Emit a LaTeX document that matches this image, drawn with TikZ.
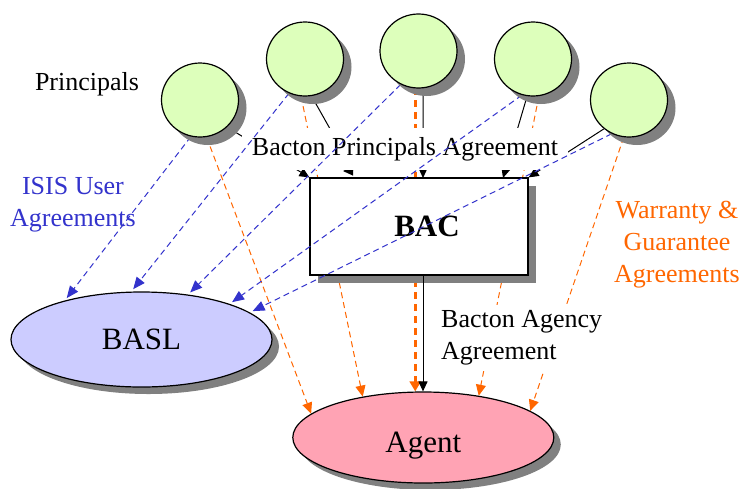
\documentclass[tikz,border=0pt]{standalone}
\usepackage{fontspec}
\setmainfont{Liberation Serif}
\usetikzlibrary{shapes.geometric,shadows,arrows.meta}
\definecolor{pgreen}{HTML}{DDFFBB}
\definecolor{lav}{HTML}{CCCCFF}
\definecolor{pinkfill}{HTML}{FFA3B4}
\definecolor{ublue}{HTML}{3333CC}
\definecolor{worange}{HTML}{FF6600}
\definecolor{shadowgray}{HTML}{808080}
\pgfdeclarelayer{lower}
\pgfdeclarelayer{bg}
\pgfdeclarelayer{fg}
\pgfsetlayers{lower,bg,main,fg}
\tikzset{
  shad/.style={drop shadow={shadow xshift=#1, shadow yshift=-#1, fill=shadowgray, opacity=1}},
  principal/.style={ellipse, draw, line width=1.2pt, fill=pgreen, minimum width=77pt, minimum height=74pt, inner sep=0pt, shad=8pt},
  bigell/.style={ellipse, draw, line width=1.2pt, minimum width=261pt, minimum height=93pt, inner sep=0pt, font=\fontsize{31}{36}\selectfont, shad=7pt},
  bacbox/.style={rectangle, draw, line width=1.2pt, fill=white, minimum width=218pt, minimum height=97pt, inner sep=0pt, font=\fontsize{31}{36}\selectfont\bfseries, shad=8pt},
  lbl/.style={inner sep=0pt, font=\fontsize{26}{32}\selectfont},
  bline/.style={line width=1pt, -{Triangle[length=10pt,width=9pt]}},
  wline/.style={line width=1pt, worange, dash pattern=on 6pt off 4pt, -{Triangle[length=11pt,width=10pt]}},
  uline/.style={line width=1pt, ublue, dash pattern=on 6pt off 4pt, shorten >=3pt, -{Triangle[length=12pt,width=10pt]}},
}
\begin{document}
\begin{tikzpicture}[x=1pt,y=-1pt]
\useasboundingbox (0,0) rectangle (743,488);
% principals (top layer)
\begin{pgfonlayer}{fg}
\node[principal] (p1) at (200,100) {};
\node[principal] (p2) at (305,59) {};
\node[principal] (p3) at (418.5,51) {};
\node[principal] (p4) at (533,59) {};
\node[principal] (p5) at (629,100) {};
\end{pgfonlayer}
\begin{pgfonlayer}{lower}
\node[bigell, fill=lav, minimum height=95pt] (basl) at (141.5,339.5) {BASL};
\end{pgfonlayer}
\node[bacbox] (bac) at (419,226.5) {\hspace*{16pt}BAC};
\node[bigell, fill=pinkfill, minimum height=91pt] (agent) at (423.3,437.5) {\raisebox{-15pt}[0pt][0pt]{Agent}};
\coordinate (t2) at (343,171);
\coordinate (t3) at (423,178);
\coordinate (t4) at (503,178);
% orange and black connectors (below the box)
\begin{pgfonlayer}{bg}
\draw[wline] (p1.-80) -- (agent.168);
\draw[wline] (p2.-96) -- (agent.146);
\draw[wline, line width=2.6pt, dash pattern=on 7pt off 5pt, -{Triangle[length=10pt,width=11pt]}] (p3.-95) -- (p3.-95 |- agent.north);
\draw[wline] (p4.-81) -- (agent.37);
\draw[wline] (p5.-98) -- (agent.14);
\draw[bline] (p1.-45) -- (bac.north west);
\draw[bline] (p2.-80) .. controls (345,155) and (353,171) .. (t2);
\draw[bline] (p3.-83) -- (t3);
\draw[bline] (p4.-99) -- (t4);
\draw[bline] (p5.-131) -- (bac.north east);
\end{pgfonlayer}
% labels
\node[lbl, anchor=base] (principals) at (87,90) {Principals};
\node[lbl, text=ublue, align=center] (isis) at (73,205) {ISIS User\\Agreements};
\node[lbl, fill=white, inner xsep=10pt, inner ysep=9pt, anchor=base] (bpa) at (405,155) {Bacton Principals Agreement};
\node[lbl, fill=white, align=left, inner sep=6pt, anchor=west] (baa) at (435,338) {Bacton Agency\\Agreement};
\node[lbl, text=worange, align=center] (war) at (677,245) {Warranty \&\\Guarantee\\Agreements};
% BAC to Agent
\draw[bline] (bac.south -| t3) -- (t3 |- agent.north);
% blue connectors
\draw[uline] (p1.-104) -- (basl.153);
\draw[uline] (p2.-115) -- (basl.102);
\draw[uline] (p3.-118) -- (basl.44);
\draw[uline] (p4.-107) -- (basl.22);
\draw[uline] (p5.-117) -- (basl.14);
\end{tikzpicture}
\end{document}
